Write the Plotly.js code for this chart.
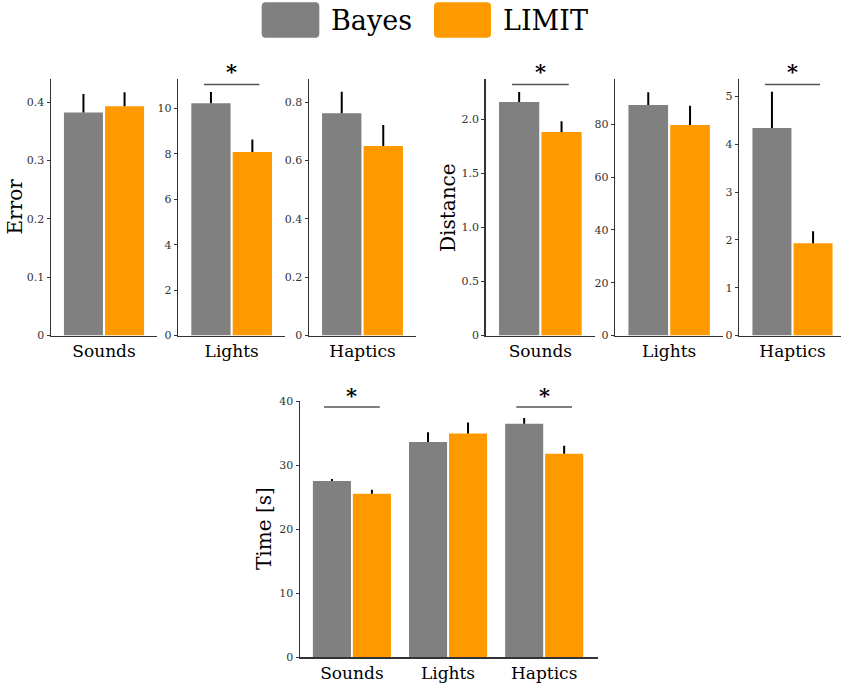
<!DOCTYPE html>
<html>
<head>
<meta charset="utf-8">
<script src="https://cdn.plot.ly/plotly-3.0.1.min.js"></script>
<style>html,body{margin:0;padding:0;background:#fff;}#chart{width:841px;height:687px;}</style>
</head>
<body>
<div id="chart"></div>
<script>
// ---------- data ----------
const categories = ['Sounds', 'Lights', 'Haptics'];
const seriesNames = ['Bayes', 'LIMIT'];

const errorBayes    = [0.382, 10.23, 0.762];
const errorBayesSE  = [0.032, 0.50, 0.073];
const errorLimit    = [0.393, 8.09, 0.649];
const errorLimitSE  = [0.024, 0.55, 0.072];
const errorSig      = [false, true, false];

const distanceBayes   = [2.157, 87.3, 4.337];
const distanceBayesSE = [0.093, 4.9, 0.76];
const distanceLimit   = [1.879, 79.7, 1.93];
const distanceLimitSE = [0.10, 7.3, 0.25];
const distanceSig     = [true, false, true];

const timeBayes   = [27.6, 33.7, 36.55];
const timeBayesSE = [0.3, 1.5, 0.9];
const timeLimit   = [25.6, 35.0, 31.85];
const timeLimitSE = [0.6, 1.75, 1.25];
const timeSig     = [true, false, true];

const errorTicks = [
  {vals: [0, 0.1, 0.2, 0.3, 0.4], text: ['0', '0.1', '0.2', '0.3', '0.4']},
  {vals: [0, 2, 4, 6, 8, 10], text: ['0', '2', '4', '6', '8', '10']},
  {vals: [0, 0.2, 0.4, 0.6, 0.8], text: ['0', '0.2', '0.4', '0.6', '0.8']}
];
const distanceTicks = [
  {vals: [0, 0.5, 1, 1.5, 2], text: ['0', '0.5', '1.0', '1.5', '2.0']},
  {vals: [0, 20, 40, 60, 80], text: ['0', '20', '40', '60', '80']},
  {vals: [0, 1, 2, 3, 4, 5], text: ['0', '1', '2', '3', '4', '5']}
];
const timeTicks = {vals: [0, 10, 20, 30, 40], text: ['0', '10', '20', '30', '40']};

// ---------- style ----------
const W = 841, H = 687;
const FONT = 'DejaVu Serif';
const GRAY = '#808080', ORANGE = '#FF9900';
const AXIS = '#333333';
const PX = p => p / W;
const PY = p => 1 - p / H;

const traces = [];
const layout = {
  width: W, height: H,
  margin: {l: 0, r: 0, t: 0, b: 0},
  paper_bgcolor: '#fff', plot_bgcolor: '#fff',
  showlegend: false,
  font: {family: FONT, color: '#000'},
  shapes: [], annotations: []
};

function axisPair(n, dx, dy, yrange, xrange, ticks) {
  const xs = n === 1 ? '' : String(n);
  layout['xaxis' + xs] = {
    domain: [PX(dx[0]), PX(dx[1])], anchor: 'y' + xs, type: 'category',
    range: xrange, showline: true, linecolor: AXIS, linewidth: 1.5,
    showgrid: false, zeroline: false, ticks: '', fixedrange: true,
    tickfont: {family: FONT, size: 17, color: '#000'}
  };
  layout['yaxis' + xs] = {
    domain: [PY(dy[1]), PY(dy[0])], anchor: 'x' + xs,
    range: yrange, showline: true, linecolor: AXIS, linewidth: 1.5,
    showgrid: false, zeroline: false, ticks: 'outside', ticklen: 3, tickwidth: 1, tickcolor: AXIS,
    tickvals: ticks.vals, ticktext: ticks.text,
    tickfont: {family: FONT, size: 11, color: '#333'}, fixedrange: true
  };
  return {xa: 'x' + xs, ya: 'y' + xs};
}

function barPair(ax, xcats, vB, eB, vL, eL, width, offB, offL) {
  const mk = (name, vals, errs, color, off) => ({
    type: 'bar', name: name, x: xcats, y: vals,
    xaxis: ax.xa, yaxis: ax.ya,
    width: width, offset: off,
    marker: {color: color, line: {width: 0}},
    error_y: {type: 'data', symmetric: false, array: errs, arrayminus: errs.map(() => 0),
              color: '#000', thickness: 2, width: 0},
    hoverinfo: 'skip'
  });
  traces.push(mk(seriesNames[0], vB, eB, GRAY, offB));
  traces.push(mk(seriesNames[1], vL, eL, ORANGE, offL));
}

function sigMark(ax, idx, halfW, lineY, starY) {
  layout.shapes.push({type: 'line', xref: ax.xa, yref: ax.ya + ' domain',
    x0: idx - halfW, x1: idx + halfW, y0: lineY, y1: lineY,
    line: {color: '#555', width: 1.5}});
  layout.annotations.push({xref: ax.xa, yref: ax.ya + ' domain', x: idx, y: starY,
    text: '<b>*</b>', showarrow: false, xanchor: 'center', yanchor: 'middle',
    font: {family: FONT, size: 21, color: '#000'}});
}

// top row panels
const topY = [79.3, 335.5];
const topX = [[51, 157], [178.3, 285], [309, 416], [485.7, 595], [615.3, 723], [739.3, 841]];
const topXR = [[-0.5, 0.5], [-0.5, 0.5], [-0.5, 0.5], [-0.5, 0.5], [-0.5, 0.5], [-0.502, 0.4575]];
const topYR = [[0, 0.439], [0, 11.29], [0, 0.878], [0, 2.367], [0, 97.06], [0, 5.356]];

for (let p = 0; p < 6; p++) {
  const i = p % 3;
  const isErr = p < 3;
  const ax = axisPair(p + 1, topX[p], topY, topYR[p], topXR[p], isErr ? errorTicks[i] : distanceTicks[i]);
  const vB = isErr ? errorBayes : distanceBayes, eB = isErr ? errorBayesSE : distanceBayesSE;
  const vL = isErr ? errorLimit : distanceLimit, eL = isErr ? errorLimitSE : distanceLimitSE;
  barPair(ax, [categories[i]], [vB[i]], [eB[i]], [vL[i]], [eL[i]], 0.368, -0.378, 0.01);
  const sig = isErr ? errorSig : distanceSig;
  if (sig[i]) sigMark(ax, 0, 0.26, 0.98, 1.0285);
}

// bottom panel
const axB = axisPair(7, [300, 598], [401, 657.3], [0, 40.1], [-0.54, 2.56], timeTicks);
barPair(axB, categories, timeBayes, timeBayesSE, timeLimit, timeLimitSE, 0.396, -0.406, 0.01);
timeSig.forEach((s, i) => { if (s) sigMark(axB, i, 0.29, 0.9766, 1.0234); });

// y titles
const ytitles = [['Error', 14.5, 207], ['Distance', 448, 208], ['Time [s]', 264, 529]];
ytitles.forEach(t => layout.annotations.push({
  xref: 'paper', yref: 'paper', x: PX(t[1]), y: PY(t[2]), text: t[0], textangle: -90,
  showarrow: false, xanchor: 'center', yanchor: 'middle',
  font: {family: FONT, size: 20, color: '#000'}
}));

// legend (manual, large swatches)
function roundRect(x0, y0, x1, y1, r) {
  const a = PX(x0), b = PX(x1), c = PY(y0), d = PY(y1), rx = r / W, ry = r / H;
  return `M${a + rx},${c} L${b - rx},${c} Q${b},${c} ${b},${c - ry} L${b},${d + ry} Q${b},${d} ${b - rx},${d} ` +
         `L${a + rx},${d} Q${a},${d} ${a},${d + ry} L${a},${c - ry} Q${a},${c} ${a + rx},${c} Z`;
}
const legendItems = [[GRAY, 261.7, 319.3, 329], [ORANGE, 434, 491, 500.5]];
legendItems.forEach((it, k) => {
  layout.shapes.push({type: 'path', xref: 'paper', yref: 'paper', path: roundRect(it[1], 2.3, it[2], 37.7, 4),
    fillcolor: it[0], line: {width: 0}});
  layout.annotations.push({xref: 'paper', yref: 'paper', x: PX(it[3]), y: PY(20), text: seriesNames[k],
    showarrow: false, xanchor: 'left', yanchor: 'middle', font: {family: FONT, size: 27, color: '#000'}});
});

Plotly.newPlot('chart', traces, layout, {displayModeBar: false, staticPlot: true});
</script>
</body>
</html>
